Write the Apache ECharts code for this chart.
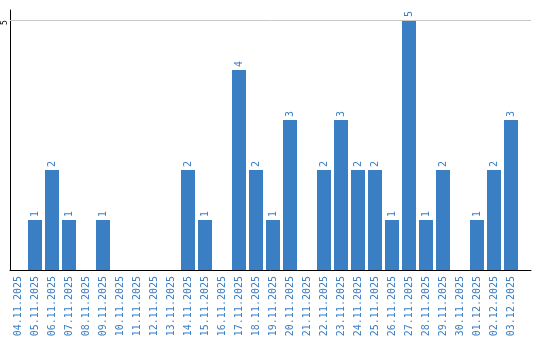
<!DOCTYPE html>
<html>
<head>
<meta charset="utf-8">
<script src="https://cdn.jsdelivr.net/npm/echarts@6/dist/echarts.min.js"></script>
<style>html,body{margin:0;padding:0;background:#fff}#c{width:540px;height:340px}</style>
</head>
<body>
<div id="c"></div>
<script>
const categories = ["04.11.2025","05.11.2025","06.11.2025","07.11.2025","08.11.2025","09.11.2025","10.11.2025","11.11.2025","12.11.2025","13.11.2025","14.11.2025","15.11.2025","16.11.2025","17.11.2025","18.11.2025","19.11.2025","20.11.2025","21.11.2025","22.11.2025","23.11.2025","24.11.2025","25.11.2025","26.11.2025","27.11.2025","28.11.2025","29.11.2025","30.11.2025","01.12.2025","02.12.2025","03.12.2025"];
const counts = [0,1,2,1,0,1,0,0,0,0,2,1,0,4,2,1,3,0,2,3,2,2,1,5,1,2,0,1,2,3];
const yTickLabels = [5];
const gridLineValue = 5;

const BLUE = '#3a7ec3';
const FONT = 'DejaVu Sans Mono';
const chart = echarts.init(document.getElementById('c'), null, {renderer: 'canvas'});
chart.setOption({
  animation: false,
  grid: [
    {left: 10, right: 9, top: 10, bottom: 70, containLabel: false, outerBoundsMode: 'none'},
    {left: 9.5, right: 20.5, top: 10, bottom: 70, containLabel: false, outerBoundsMode: 'none'}
  ],
  xAxis: [
    {gridIndex: 0, type: 'value', min: 0, max: 1,
     axisLine: {show: true, onZero: false, lineStyle: {color: '#000', width: 1}},
     axisTick: {show: false}, axisLabel: {show: false}, splitLine: {show: false}},
    {gridIndex: 1, type: 'category', data: categories,
     axisLine: {show: false}, axisTick: {show: false}, splitLine: {show: false},
     axisLabel: {interval: 0, rotate: 90, margin: 6, color: BLUE, fontFamily: FONT, fontSize: 10}}
  ],
  yAxis: [
    {gridIndex: 0, type: 'value', min: 0, max: 5.2, interval: 5,
     axisLine: {show: true, lineStyle: {color: '#000', width: 1}},
     axisTick: {show: false}, splitLine: {show: false},
     axisLabel: {rotate: 90, margin: 1, color: '#000', fontFamily: FONT, fontSize: 8,
       align: 'center', verticalAlign: 'bottom', lineHeight: 9, padding: [0, 5, 0, 0],
       formatter: v => yTickLabels.includes(v) ? String(v) : ''}},
    {gridIndex: 1, type: 'value', min: 0, max: 5.2, interval: 5, show: false}
  ],
  series: [
    {type: 'line', xAxisIndex: 0, yAxisIndex: 0, data: [[0, 0]], symbol: 'none',
     lineStyle: {width: 0}, silent: true,
     markLine: {silent: true, symbol: 'none', label: {show: false},
       lineStyle: {color: '#c8c8c8', type: 'solid', width: 1},
       data: [{yAxis: gridLineValue}]}},
    {type: 'bar', xAxisIndex: 1, yAxisIndex: 1, data: counts, barWidth: 14,
     itemStyle: {color: BLUE},
     label: {show: true, position: 'top', rotate: 90, align: 'left', verticalAlign: 'middle',
       distance: 3, color: BLUE, fontFamily: FONT, fontSize: 10,
       formatter: p => p.value > 0 ? String(p.value) : ''}}
  ]
});
</script>
</body>
</html>
